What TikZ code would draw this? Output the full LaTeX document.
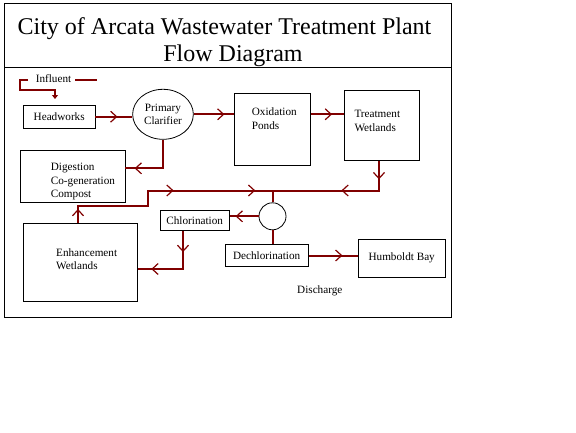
\documentclass[tikz,border=0pt]{standalone}
\usepackage{fontspec}
\setmainfont{Liberation Serif}
\usetikzlibrary{shapes.geometric,arrows.meta,decorations.markings}
\definecolor{pipe}{RGB}{128,0,0}
\tikzset{
    box/.style={draw, line width=0.8pt, inner sep=0pt},
    lbl/.style={inner sep=0pt, align=left},
    flow/.style={draw=pipe, line width=2pt},
    midarrow/.style={postaction={decorate, decoration={markings,
        mark=at position #1 with {\arrow[color=pipe, line width=1.2pt]{Straight Barb[length=6pt, width=11pt]}}}}},
}
\begin{document}
\begin{tikzpicture}[x=1pt, y=-1pt, every node/.style={font=\fontsize{11.2}{13.5}\selectfont}]
    \useasboundingbox (0,0) rectangle (576,432);

    % frame and title
    \draw[line width=1pt] (4.5,3) rectangle (451,317);
    \draw[line width=1pt] (4.5,67.5) -- (451,67.5);
    \node[anchor=base, inner sep=0pt, font=\fontsize{24}{26}\selectfont] (title1) at (224.5,34.5) {City of Arcata Wastewater Treatment Plant};
    \node[anchor=base, inner sep=0pt, font=\fontsize{24}{26}\selectfont] (title2) at (233,61) {Flow Diagram};

    % influent
    \node[anchor=base, inner sep=0pt] (infl) at (53.5,82.3) {Influent};
    \coordinate (in1) at (28,80);
    \coordinate (in2) at (55,99);
    \coordinate (in3) at (75,80);
    \coordinate (in4) at (97,80);
    \draw[flow, -{Triangle[length=4pt, width=6pt]}] (in1) -- (20,80) -- (20,90) -| (in2);
    \draw[flow] (in3) -- (in4);

    % treatment train
    \node[box, minimum width=71.7pt, minimum height=23.3pt] (hw) at (59.2,116.7) {Headworks};
    \node[box, ellipse, minimum width=60.7pt, minimum height=50pt, align=center] (clar) at (163,114.3) {Primary\\Clarifier};
    \node[box, minimum width=76.7pt, minimum height=71.7pt] (ox) at (272.3,129.2) {};
    \node[lbl, anchor=north west] (oxt) at (251.7,108) {Oxidation\\Ponds};
    \node[box, minimum width=74.7pt, minimum height=70.7pt] (tw) at (381.7,125.3) {};
    \node[lbl, anchor=north west] (twt) at (354.3,110) {Treatment\\Wetlands};
    \node[box, minimum width=104.3pt, minimum height=52.7pt] (dig) at (72.8,176.3) {};
    \node[lbl, anchor=north west] (digt) at (50.7,163.2) {Digestion\\Co-generation\\Compost};
    \node[box, minimum width=114.4pt, minimum height=77.7pt] (enh) at (80.5,262.2) {};
    \node[lbl, anchor=north west] (enht) at (56,248.5) {Enhancement\\Wetlands};
    \node[box, minimum width=69.3pt, minimum height=20pt] (chl) at (194.7,220.7) {Chlorination};
    \node[box, circle, minimum size=27pt] (sp) at (272.5,216.3) {};
    \node[box, minimum width=83.3pt, minimum height=22.4pt] (dch) at (266.7,255.5) {Dechlorination};
    \node[box, minimum width=86.7pt, minimum height=38pt] (hb) at (401.7,258.3) {Humboldt Bay};
    \node[anchor=base, inner sep=0pt] (dis) at (319.8,293.3) {Discharge};

    % corners of the pipes
    \coordinate (c1) at (162.5,168.3);
    \coordinate (c2) at (379,190.5);
    \coordinate (jn) at (272.5,190.5);
    \coordinate (c3) at (78,206);
    \coordinate (c4) at (148,206);
    \coordinate (c5) at (148,190.5);
    \coordinate (c6) at (183,269);

    % flows
    \draw[flow, midarrow=22pt] (hw.east) -- (hw.east -| clar.west);
    \draw[flow, midarrow=30.7pt] (clar.east) -- (clar.east -| ox.west);
    \draw[flow, midarrow=21pt] (ox.east |- clar.east) -- (tw.west |- clar.east);
    \draw[flow, midarrow=56.5pt] (clar.south -| c1) -- (c1) -- (c1 -| dig.east);
    \draw[flow, midarrow=18.3pt, midarrow=67.1pt] (c2 |- tw.south) -- (c2) -- (jn) -- (sp.north);
    \draw[flow, midarrow=14pt, midarrow=128.1pt, midarrow=209.8pt] (c3 |- enh.north) -- (c3) -- (c4) -- (c5) -- (jn);
    \draw[flow, midarrow=23pt] (sp.west) -- (sp.west -| chl.east);
    \draw[flow, midarrow=21pt, midarrow=69.6pt] (c6 |- chl.south) -- (c6) -- (c6 -| enh.east);
    \draw[flow] (sp.south) -- (sp.south |- dch.north);
    \draw[flow, midarrow=33.7pt] (dch.east) -- (dch.east -| hb.west);
\end{tikzpicture}
\end{document}
